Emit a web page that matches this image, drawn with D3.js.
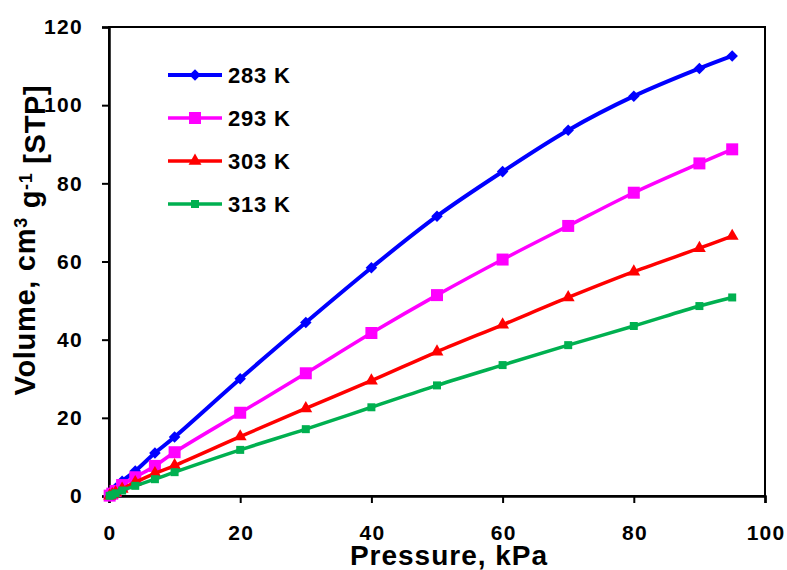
<!DOCTYPE html>
<html>
<head>
<meta charset="utf-8">
<script src="https://cdn.jsdelivr.net/npm/d3@7"></script>
<style>
  html, body { margin: 0; padding: 0; background: #fff; }
  svg { display: block; font-family: "Liberation Sans", Arial, sans-serif; }
</style>
</head>
<body>
<svg id="chart" width="787" height="570"></svg>
<script>
// Pressure points (kPa) shared by every isotherm
const pressure = [0.1, 0.5, 1, 2, 4, 7, 10, 20, 30, 40, 50, 60, 70, 80, 90, 95];

// Adsorbed volume, cm3 g-1 [STP], per temperature
const v283 = [0.2, 1.0, 2.0, 3.8, 6.4, 11.0, 15.1, 30.0, 44.4, 58.4, 71.6, 83.0, 93.6, 102.3, 109.4, 112.6];
const v293 = [0.1, 0.6, 1.3, 2.8, 4.8, 7.7, 11.2, 21.3, 31.4, 41.7, 51.4, 60.5, 69.1, 77.6, 85.1, 88.7];
const v303 = [0.05, 0.4, 0.9, 1.8, 3.5, 5.8, 7.8, 15.2, 22.4, 29.5, 36.9, 43.8, 50.8, 57.4, 63.4, 66.5];
const v313 = [0.05, 0.3, 0.7, 1.4, 2.6, 4.3, 6.1, 11.8, 17.1, 22.7, 28.3, 33.5, 38.6, 43.5, 48.6, 50.8];

const seriesNames = ["283 K", "293 K", "303 K", "313 K"];
const xTicks = [0, 20, 40, 60, 80, 100];
const yTicks = [0, 20, 40, 60, 80, 100, 120];

const series = [
  { name: seriesNames[0], values: v283, color: "#0000FF", marker: "diamond", size: 11, width: 4 },
  { name: seriesNames[1], values: v293, color: "#FF00FF", marker: "square", size: 12, width: 3.5 },
  { name: seriesNames[2], values: v303, color: "#FF0000", marker: "triangle", size: 12, width: 3.5 },
  { name: seriesNames[3], values: v313, color: "#00B050", marker: "square", size: 8, width: 3.5 }
];

const svg = d3.select("#chart");
const plotLeft = 109, plotRight = 765, plotTop = 27, plotBottom = 496;

const x = d3.scaleLinear().domain([0, 100]).range([plotLeft, plotRight]);
const y = d3.scaleLinear().domain([0, 120]).range([plotBottom, plotTop]);

// Plot frame
svg.append("rect")
  .attr("x", plotLeft).attr("y", plotTop)
  .attr("width", plotRight - plotLeft).attr("height", plotBottom - plotTop)
  .attr("fill", "none").attr("stroke", "#000").attr("stroke-width", 2);

// Axes
const xAxis = svg.append("g")
  .attr("transform", `translate(0,${plotBottom})`)
  .call(d3.axisBottom(x).tickValues(xTicks).tickSize(7).tickPadding(22).tickFormat(d3.format("d")));
const yAxis = svg.append("g")
  .attr("transform", `translate(${plotLeft},0)`)
  .call(d3.axisLeft(y).tickValues(yTicks).tickSize(7).tickPadding(19).tickFormat(d3.format("d")));

[xAxis, yAxis].forEach(g => {
  g.select(".domain").attr("stroke", "#000").attr("stroke-width", 2.5);
  g.selectAll(".tick line").attr("stroke", "#000").attr("stroke-width", 2);
  g.selectAll(".tick text")
    .attr("fill", "#000")
    .style("font-size", "21px")
    .style("font-weight", "bold")
    .style("letter-spacing", "1.3px")
    .style("font-family", "'Liberation Sans', Arial, sans-serif");
});
// keep x labels centred despite the trailing letter spacing
xAxis.selectAll(".tick text").attr("dx", "0.6");

// Marker shapes
const symbolFor = (m, size) => {
  if (m === "diamond") return d3.symbol().type(d3.symbolSquare).size(size * size * 0.55)();
  if (m === "triangle") return d3.symbol().type(d3.symbolTriangle).size(size * size * 0.5)();
  return d3.symbol().type(d3.symbolSquare).size(size * size)();
};
const markerTransform = (m, px, py) =>
  m === "diamond" ? `translate(${px},${py}) rotate(45)` : `translate(${px},${py})`;

const line = d3.line()
  .x(d => x(d[0]))
  .y(d => y(d[1]))
  .curve(d3.curveCatmullRom.alpha(0.5));

series.forEach(s => {
  const pts = pressure.map((p, i) => [p, s.values[i]]);
  const g = svg.append("g");
  g.append("path")
    .datum(pts)
    .attr("d", line)
    .attr("fill", "none")
    .attr("stroke", s.color)
    .attr("stroke-width", s.width)
    .attr("stroke-linejoin", "round");
  g.selectAll("path.pt")
    .data(pts)
    .join("path")
    .attr("class", "pt")
    .attr("d", symbolFor(s.marker, s.size))
    .attr("transform", d => markerTransform(s.marker, x(d[0]), y(d[1])))
    .attr("fill", s.color);
});

// Legend
const legend = svg.append("g");
series.forEach((s, i) => {
  const ly = 75 + i * 43;
  legend.append("line")
    .attr("x1", 168).attr("x2", 222).attr("y1", ly).attr("y2", ly)
    .attr("stroke", s.color).attr("stroke-width", s.width);
  legend.append("path")
    .attr("d", symbolFor(s.marker, s.size))
    .attr("transform", markerTransform(s.marker, 195, ly))
    .attr("fill", s.color);
  legend.append("text")
    .attr("x", 228).attr("y", ly)
    .attr("dy", "0.36em")
    .style("font-size", "22px")
    .style("font-weight", "bold")
    .style("letter-spacing", "0.8px")
    .attr("fill", "#000")
    .text(s.name);
});

// Axis titles
svg.append("text")
  .attr("x", 449).attr("y", 565)
  .attr("text-anchor", "middle")
  .style("font-size", "28px")
  .style("font-weight", "bold")
  .style("letter-spacing", "1px")
  .attr("fill", "#000")
  .text("Pressure, kPa");

const yTitle = svg.append("text")
  .attr("transform", "translate(35,240) rotate(-90)")
  .attr("text-anchor", "middle")
  .style("font-size", "29px")
  .style("font-weight", "bold")
  .style("letter-spacing", "0.7px")
  .attr("fill", "#000");
yTitle.append("tspan").text("Volume, cm");
yTitle.append("tspan").attr("dy", "-0.45em").style("font-size", "18px").text("3");
yTitle.append("tspan").attr("dy", "0.45em").text(" g");
yTitle.append("tspan").attr("dy", "-0.45em").style("font-size", "18px").text("-1");
yTitle.append("tspan").attr("dy", "0.45em").text(" [STP]");
</script>
</body>
</html>
